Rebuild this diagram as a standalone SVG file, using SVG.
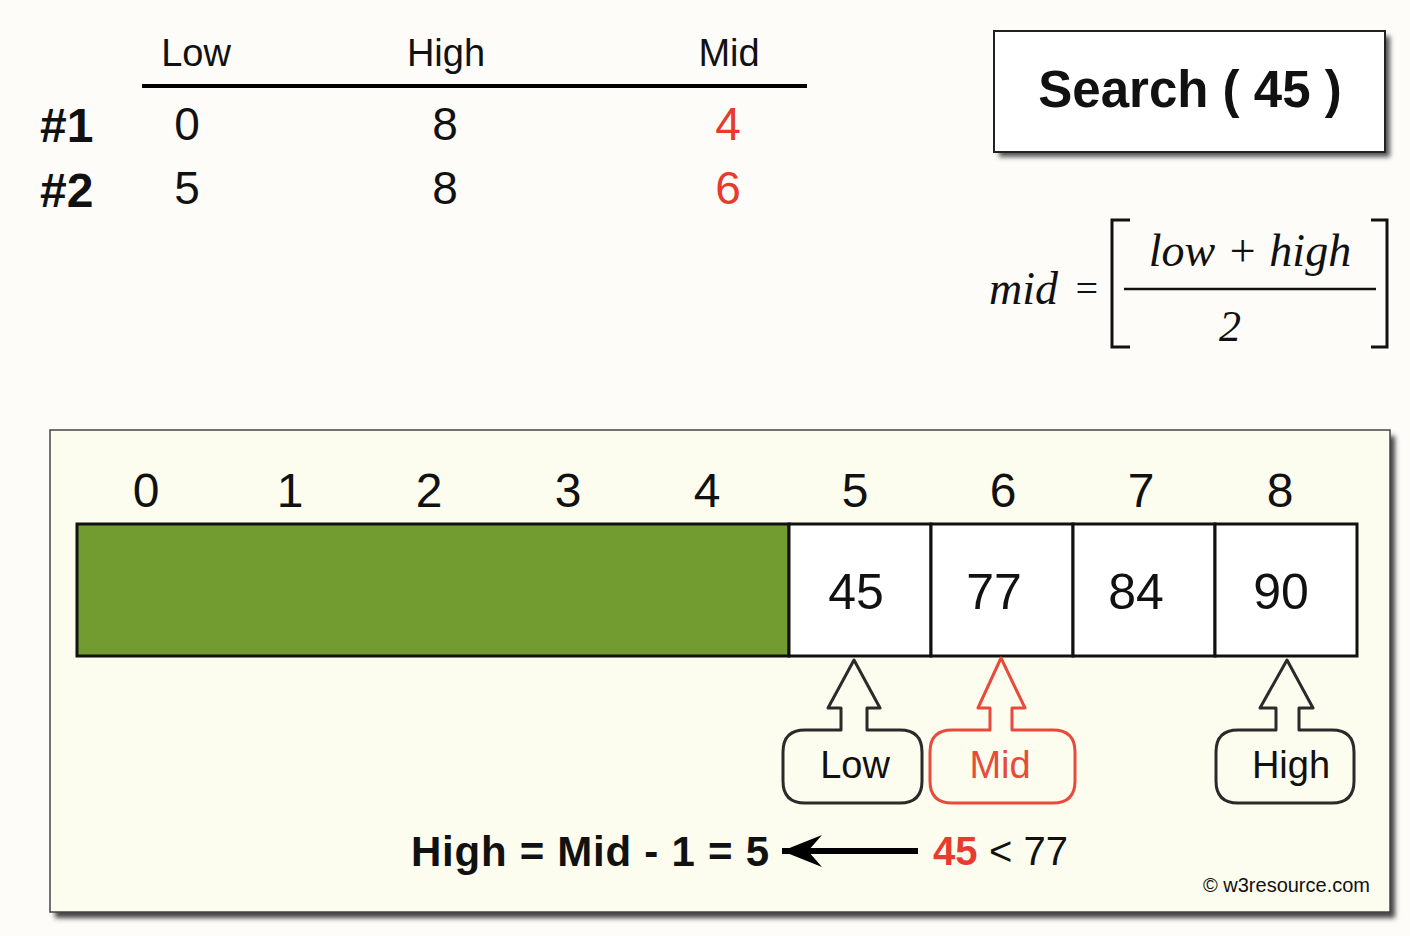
<svg xmlns="http://www.w3.org/2000/svg" width="1410" height="936" viewBox="0 0 1410 936">
<defs>
<filter id="sh" x="-5%" y="-5%" width="115%" height="115%">
<feGaussianBlur stdDeviation="2.5"/>
</filter>
<marker id="ah" viewBox="0 0 44 36" refX="42" refY="18" markerWidth="44" markerHeight="36" markerUnits="userSpaceOnUse" orient="auto">
<path d="M42,18 L2,2 L16,18 L2,34 Z" fill="#000"/>
</marker>
</defs>
<style>
.g{font-family:"Liberation Sans",Arial,sans-serif;fill:#111}
.b{font-family:"Liberation Sans",Arial,sans-serif;font-weight:bold;fill:#111}
.m{font-family:"Liberation Serif","Times New Roman",serif;font-style:italic;fill:#111}
.red{fill:#e63b2e}
.call{fill:none;stroke:#2a2a2a;stroke-width:3;stroke-linejoin:round}
.callr{fill:none;stroke:#e84a3c;stroke-width:3;stroke-linejoin:round}
.cell{fill:#fff;stroke:#111;stroke-width:3}
</style>
<rect width="1410" height="936" fill="#fdfcf9"/>

<g id="table">
<text class="g" x="196" y="66" font-size="38" text-anchor="middle">Low</text>
<text class="g" x="446" y="66" font-size="38" text-anchor="middle">High</text>
<text class="g" x="729" y="66" font-size="38" text-anchor="middle">Mid</text>
<line x1="142" y1="86" x2="807" y2="86" stroke="#000" stroke-width="4"/>
<text class="b" x="40" y="142" font-size="48">#1</text>
<text class="g" x="187" y="140" font-size="46" text-anchor="middle">0</text>
<text class="g" x="445" y="140" font-size="46" text-anchor="middle">8</text>
<text class="g red" x="728" y="140" font-size="46" text-anchor="middle">4</text>
<text class="b" x="40" y="207" font-size="48">#2</text>
<text class="g" x="187" y="204" font-size="46" text-anchor="middle">5</text>
<text class="g" x="445" y="204" font-size="46" text-anchor="middle">8</text>
<text class="g red" x="728" y="204" font-size="46" text-anchor="middle">6</text>
</g>

<g id="search">
<rect x="999" y="36" width="391" height="121" fill="#555" filter="url(#sh)"/>
<rect x="994" y="31" width="391" height="121" fill="#fff" stroke="#222" stroke-width="2"/>
<text class="b" x="1190" y="107" font-size="51" text-anchor="middle">Search ( 45 )</text>
</g>

<g id="formula">
<text class="m" x="989" y="304" font-size="46">mid</text>
<text class="m" x="1073" y="302" font-size="40" font-style="normal">=</text>
<path d="M1130,220 L1112,220 L1112,347 L1130,347" fill="none" stroke="#111" stroke-width="3"/>
<path d="M1371,220 L1387,220 L1387,347 L1371,347" fill="none" stroke="#111" stroke-width="3"/>
<line x1="1124" y1="289" x2="1376" y2="289" stroke="#111" stroke-width="2.5"/>
<text class="m" x="1250" y="266" font-size="46" text-anchor="middle">low + high</text>
<text class="m" x="1230" y="341" font-size="44" text-anchor="middle">2</text>
</g>

<g id="panel">
<rect x="55" y="436" width="1340" height="482" fill="#444" filter="url(#sh)"/>
<rect x="50" y="430" width="1340" height="482" fill="#fdfdef" stroke="#444" stroke-width="1.5"/>
</g>

<g id="indices" class="g" font-size="48" text-anchor="middle">
<text x="146" y="507">0</text>
<text x="290" y="507">1</text>
<text x="429" y="507">2</text>
<text x="568" y="507">3</text>
<text x="707" y="507">4</text>
<text x="855" y="507">5</text>
<text x="1003" y="507">6</text>
<text x="1141" y="507">7</text>
<text x="1280" y="507">8</text>
</g>

<g id="array">
<rect x="77" y="524" width="712" height="132" fill="#729b30" stroke="#111" stroke-width="3"/>
<rect class="cell" x="789" y="524" width="142" height="132"/>
<rect class="cell" x="931" y="524" width="142" height="132"/>
<rect class="cell" x="1073" y="524" width="142" height="132"/>
<rect class="cell" x="1215" y="524" width="142" height="132"/>
<g class="g" font-size="50" text-anchor="middle">
<text x="856" y="609">45</text>
<text x="994" y="609">77</text>
<text x="1136" y="609">84</text>
<text x="1281" y="609">90</text>
</g>
</g>

<g id="low-pointer">
<path class="call" d="M854,660 L880,708 L867,708 L867,730 L900,730 Q922,730 922,752 L922,781 Q922,803 900,803 L805,803 Q783,803 783,781 L783,752 Q783,730 805,730 L841,730 L841,708 L828,708 Z"/>
<text class="g" x="855" y="778" font-size="38" text-anchor="middle">Low</text>
</g>

<g id="mid-pointer">
<path class="callr" d="M1001,658 L1025,708 L1012,708 L1012,730 L1053,730 Q1075,730 1075,752 L1075,781 Q1075,803 1053,803 L952,803 Q930,803 930,781 L930,752 Q930,730 952,730 L990,730 L990,708 L978,708 Z"/>
<text class="g" x="1000" y="778" font-size="38" text-anchor="middle" style="fill:#e84a3c">Mid</text>
</g>

<g id="high-pointer">
<path class="call" d="M1287,660 L1313,708 L1299,708 L1299,730 L1332,730 Q1354,730 1354,752 L1354,781 Q1354,803 1332,803 L1238,803 Q1216,803 1216,781 L1216,752 Q1216,730 1238,730 L1276,730 L1276,708 L1260,708 Z"/>
<text class="g" x="1291" y="778" font-size="38" text-anchor="middle">High</text>
</g>

<g id="connectors">
<line x1="918" y1="851" x2="782" y2="851" stroke="#000" stroke-width="6" marker-end="url(#ah)"/>
</g>

<g id="result">
<text class="b" x="411" y="866" font-size="42" textLength="358" lengthAdjust="spacing">High = Mid - 1 = 5</text>
<text class="b red" x="933" y="865" font-size="40">45</text>
<text class="g" x="989" y="865" font-size="40">&lt; 77</text>
</g>

<text class="g" x="1370" y="892" font-size="20" text-anchor="end">© w3resource.com</text>
</svg>
